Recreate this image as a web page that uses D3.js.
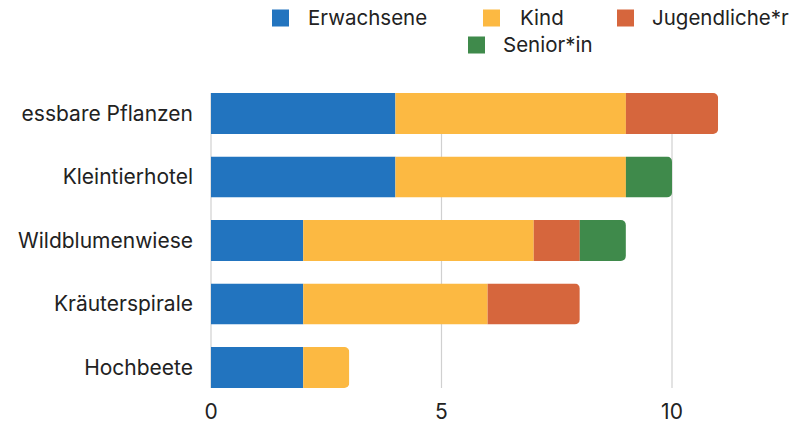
<!DOCTYPE html>
<html>
<head>
<meta charset="utf-8">
<script src="https://cdn.jsdelivr.net/npm/d3@7"></script>
<style>
  body { margin: 0; background: #fff; }
  text { font-family: Inter, "Noto Sans", sans-serif; fill: #222; }
</style>
</head>
<body>
<div id="chart"></div>
<script>
const categories = ["essbare Pflanzen", "Kleintierhotel", "Wildblumenwiese", "Kräuterspirale", "Hochbeete"];
const seriesNames = ["Erwachsene", "Kind", "Jugendliche*r", "Senior*in"];
const erwachsene = [4, 4, 2, 2, 2];
const kind = [5, 5, 5, 4, 1];
const jugendliche = [2, 0, 1, 2, 0];
const senior = [0, 1, 1, 0, 0];
const xTicks = [0, 5, 10];
const colors = ["#2274bf", "#fcb942", "#d6663d", "#3f8a4b"];

const width = 794, height = 427;

const rows = categories.map((c, i) => ({
    cat: c,
    "Erwachsene": erwachsene[i],
    "Kind": kind[i],
    "Jugendliche*r": jugendliche[i],
    "Senior*in": senior[i]
}));
const stacked = d3.stack().keys(seriesNames)(rows);

const svg = d3.select("#chart").append("svg")
    .attr("width", width).attr("height", height);

const x = d3.scaleLinear().domain([0, 10]).range([211, 672]);
const y = d3.scaleBand().domain(categories)
    .range([93, 388])
    .paddingInner(0.354).paddingOuter(0);

// gridlines
svg.append("g").selectAll("line")
    .data(xTicks)
    .join("line")
    .attr("x1", d => x(d)).attr("x2", d => x(d))
    .attr("y1", y.range()[0]).attr("y2", y.range()[1])
    .attr("stroke", "#d0d0d0").attr("stroke-width", 1.2);

// clip paths for rounded right ends
const defs = svg.append("defs");
rows.forEach((r, i) => {
    const total = d3.sum(seriesNames, k => r[k]);
    defs.append("clipPath").attr("id", "clip" + i)
        .append("rect")
        .attr("x", x(0) - 10)
        .attr("y", y(r.cat))
        .attr("width", x(total) - x(0) + 10)
        .attr("height", y.bandwidth())
        .attr("rx", 5);
});

svg.append("g").selectAll("g")
    .data(stacked)
    .join("g")
    .attr("fill", (d, i) => colors[i])
    .selectAll("rect")
    .data(d => d.map((v, i) => ({v, i})).filter(d => d.v[1] > d.v[0]))
    .join("rect")
    .attr("clip-path", d => "url(#clip" + d.i + ")")
    .attr("x", d => x(d.v[0]))
    .attr("y", d => y(categories[d.i]))
    .attr("width", d => x(d.v[1]) - x(d.v[0]))
    .attr("height", y.bandwidth());

// category labels
svg.append("g").selectAll("text")
    .data(categories)
    .join("text")
    .attr("x", 193)
    .attr("y", d => y(d) + y.bandwidth() / 2)
    .attr("dy", "0.35em")
    .attr("text-anchor", "end")
    .attr("font-size", 21)
    .text(d => d);

// x tick labels
svg.append("g").selectAll("text")
    .data(xTicks)
    .join("text")
    .attr("x", d => x(d))
    .attr("y", 419)
    .attr("text-anchor", "middle")
    .attr("font-size", 21)
    .text(d => d);

// legend
const legendPos = [
    {sx: 272, tx: 308, y: 18},
    {sx: 483, tx: 520, y: 18},
    {sx: 617, tx: 652, y: 18},
    {sx: 468, tx: 503, y: 45}
];
const lg = svg.append("g").selectAll("g")
    .data(seriesNames)
    .join("g");
lg.append("rect")
    .attr("x", (d, i) => legendPos[i].sx)
    .attr("y", (d, i) => legendPos[i].y - 8.5)
    .attr("width", 17).attr("height", 17)
    .attr("fill", (d, i) => colors[i]);
lg.append("text")
    .attr("x", (d, i) => legendPos[i].tx)
    .attr("y", (d, i) => legendPos[i].y)
    .attr("dy", "0.35em")
    .attr("font-size", 20.5)
    .text(d => d);
</script>
</body>
</html>
